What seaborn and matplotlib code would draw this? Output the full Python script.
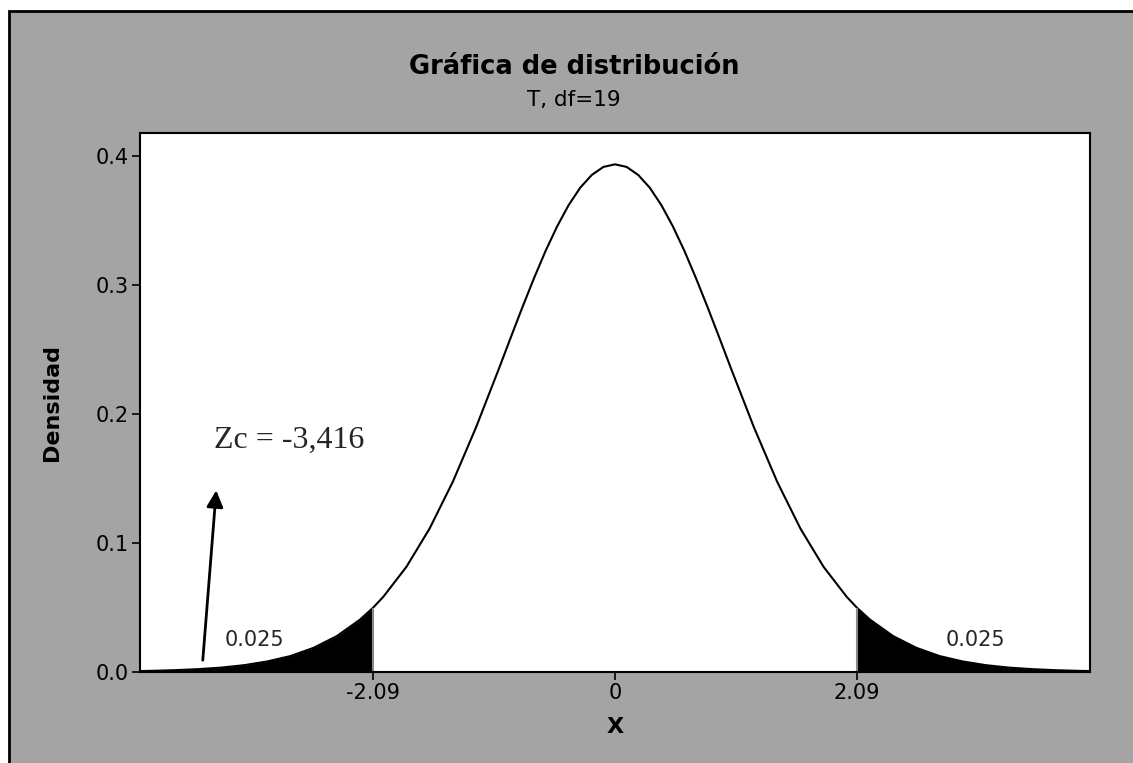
import numpy as np
import pandas as pd
import matplotlib
matplotlib.use("Agg")
import matplotlib.pyplot as plt
import seaborn as sns
from matplotlib.patches import Rectangle

# =========================================================
# DATA (T distribution, df=19)
# =========================================================

t_pos = [0.0, 0.1, 0.2, 0.3, 0.4, 0.5, 0.6, 0.7, 0.8, 0.9, 1.0, 1.2, 1.4, 1.6,
         1.8, 2.0, 2.09, 2.2, 2.4, 2.6, 2.8, 3.0, 3.2, 3.4, 3.6, 3.8, 4.0, 4.2]
dens_pos = [0.3937, 0.3917, 0.3855, 0.3756, 0.3621, 0.3455, 0.3264, 0.3052,
            0.2827, 0.2594, 0.2357, 0.1896, 0.1475, 0.1113, 0.0816, 0.0583,
            0.0497, 0.0407, 0.0279, 0.0188, 0.0124, 0.0082, 0.0053, 0.0034,
            0.0022, 0.0014, 0.0009, 0.0006]

t_crit = 2.09
tail_area = "0.025"
zc_label = "Zc = -3,416"
x_ticks = [-2.09, 0, 2.09]
x_tick_labels = ["-2.09", "0", "2.09"]
y_ticks = [0.0, 0.1, 0.2, 0.3, 0.4]
y_tick_labels = ["0.0", "0.1", "0.2", "0.3", "0.4"]

# symmetric curve
t_vals = [-v for v in t_pos[:0:-1]] + t_pos
dens = dens_pos[:0:-1] + dens_pos
df = pd.DataFrame({"X": t_vals, "Densidad": dens})

# =========================================================
# FIGURE
# =========================================================

sns.set_style("white")
plt.rcParams["font.family"] = ["DejaVu Sans"]

BG = "#a4a4a4"
fig = plt.figure(figsize=(11.33, 7.63), dpi=100, facecolor="white")
fig.patches.append(Rectangle((9 / 1133, -0.01), 1.0, 1.01 - 11 / 763,
                             transform=fig.transFigure, facecolor=BG,
                             edgecolor="black", linewidth=2, zorder=-10))

ax = fig.add_axes([140 / 1133, 91 / 763, 950 / 1133, 539 / 763])
ax.set_facecolor("white")

sns.lineplot(data=df, x="X", y="Densidad", color="black", linewidth=1.5, ax=ax)

left = df[df["X"] <= -t_crit]
right = df[df["X"] >= t_crit]
ax.fill_between(left["X"], 0, left["Densidad"], color="black", linewidth=0)
ax.fill_between(right["X"], 0, right["Densidad"], color="black", linewidth=0)
ax.vlines([-t_crit, t_crit], 0, dens_pos[t_pos.index(t_crit)], color="#888888", linewidth=1.5)

ax.set_xlim(-4.1, 4.1)
ax.set_ylim(0, 0.418)
ax.set_xticks(x_ticks)
ax.set_xticklabels(x_tick_labels)
ax.set_yticks(y_ticks)
ax.set_yticklabels(y_tick_labels)
ax.tick_params(axis="both", direction="out", length=6, width=1.2, color="black",
               labelsize=15, pad=2, left=True, bottom=True, labelcolor="black")

for s in ax.spines.values():
    s.set_color("black")
    s.set_linewidth(1.5)

ax.set_xlabel("X", fontsize=16, fontweight="bold", color="black")
ax.set_ylabel("Densidad", fontsize=16, fontweight="bold", color="black")
ax.xaxis.set_label_coords(0.5, -45 / 539)
ax.yaxis.set_label_coords(-78 / 950, 0.5)

# annotations
ax.text(-3.11, 0.025, tail_area, ha="center", va="center", fontsize=15)
ax.text(3.11, 0.025, tail_area, ha="center", va="center", fontsize=15)
ax.text(-3.46, 0.18, zc_label, ha="left", va="center", fontsize=23,
        family="Liberation Serif")
ax.annotate("", xy=(-3.44, 0.143), xytext=(-3.56, 0.007),
            arrowprops=dict(arrowstyle="-|>", color="black", lw=2,
                            mutation_scale=25))

fig.text(574 / 1133, 1 - 67 / 763, "Gráfica de distribución", ha="center",
         va="center", fontsize=18.5, fontweight="bold", color="black")
fig.text(574 / 1133, 1 - 100 / 763, "T, df=19", ha="center", va="center",
         fontsize=15.5, color="black")

plt.savefig("out.png", dpi=100, facecolor=fig.get_facecolor())
plt.close()
